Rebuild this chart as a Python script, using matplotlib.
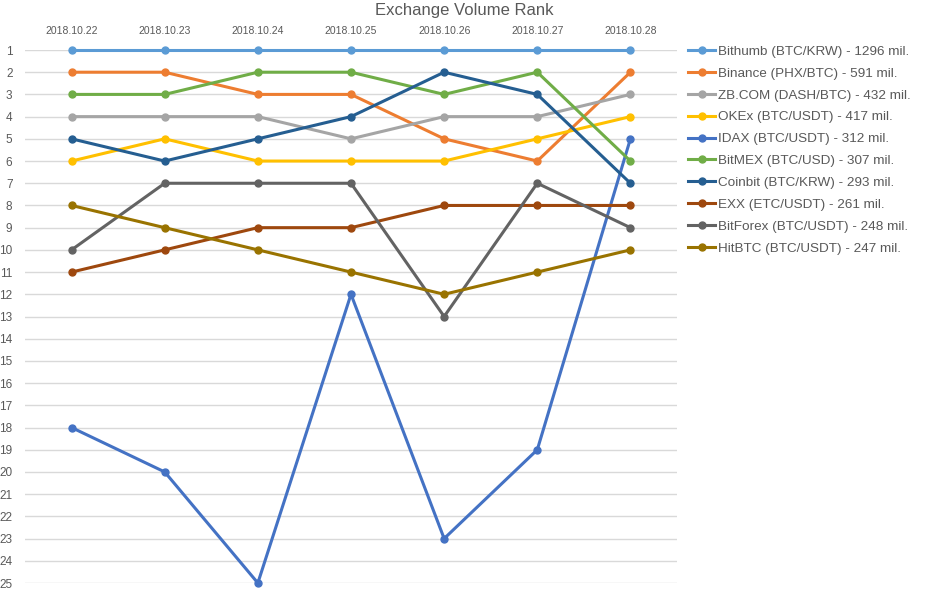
import matplotlib
matplotlib.use('Agg')
import matplotlib.pyplot as plt

# exchange volume rank per day
dates = ['2018.10.22', '2018.10.23', '2018.10.24', '2018.10.25', '2018.10.26', '2018.10.27', '2018.10.28']
names = ['Bithumb (BTC/KRW) - 1296 mil.', 'Binance (PHX/BTC) - 591 mil.', 'ZB.COM (DASH/BTC) - 432 mil.',
         'OKEx (BTC/USDT) - 417 mil.', 'IDAX (BTC/USDT) - 312 mil.', 'BitMEX (BTC/USD) - 307 mil.',
         'Coinbit (BTC/KRW) - 293 mil.', 'EXX (ETC/USDT) - 261 mil.', 'BitForex (BTC/USDT) - 248 mil.',
         'HitBTC (BTC/USDT) - 247 mil.']
bithumb = [1, 1, 1, 1, 1, 1, 1]
binance = [2, 2, 3, 3, 5, 6, 2]
zbcom = [4, 4, 4, 5, 4, 4, 3]
okex = [6, 5, 6, 6, 6, 5, 4]
idax = [18, 20, 25, 12, 23, 19, 5]
bitmex = [3, 3, 2, 2, 3, 2, 6]
coinbit = [5, 6, 5, 4, 2, 3, 7]
exx = [11, 10, 9, 9, 8, 8, 8]
bitforex = [10, 7, 7, 7, 13, 7, 9]
hitbtc = [8, 9, 10, 11, 12, 11, 10]
ranks = [bithumb, binance, zbcom, okex, idax, bitmex, coinbit, exx, bitforex, hitbtc]
colors = ['#5B9BD5', '#ED7D31', '#A5A5A5', '#FFC000', '#4472C4', '#70AD47',
          '#255E91', '#9E480E', '#636363', '#997300']

plt.rcParams['font.family'] = ['Liberation Sans', 'DejaVu Sans']

fig = plt.figure(figsize=(9.28, 5.93), dpi=100)
ax = fig.add_axes([25/928, 10/593, 652/928, 533/593])

x = list(range(len(dates)))
for r, c, n in zip(ranks, colors, names):
    ax.plot(x, r, color=c, lw=2.2, marker='o', markersize=5, label=n, clip_on=False, zorder=3)

ax.set_xlim(-0.5, 6.5)
ax.set_ylim(25, 1)
ax.set_yticks(range(1, 26))
ax.set_xticks(x)
ax.set_xticklabels(dates)
ax.xaxis.tick_top()
ax.tick_params(axis='x', length=0, pad=10, labelsize=7.5, labelcolor='#595959')
ax.tick_params(axis='y', length=0, pad=9, labelsize=8.5, labelcolor='#595959')
ax.yaxis.grid(True, color='#D9D9D9', lw=1)
ax.set_axisbelow(True)
for s in ax.spines.values():
    s.set_visible(False)

fig.text(0.5, 1 - 11/593, 'Exchange Volume Rank', ha='center', va='center', fontsize=12, color='#595959')

fig.legend(loc='upper left', bbox_to_anchor=(683/928, 1 - 40/593), frameon=False, fontsize=9.7,
           labelspacing=0.7, handlelength=2.0, handletextpad=0.2, labelcolor='#595959', borderaxespad=0)

fig.savefig('out.png', dpi=100)
